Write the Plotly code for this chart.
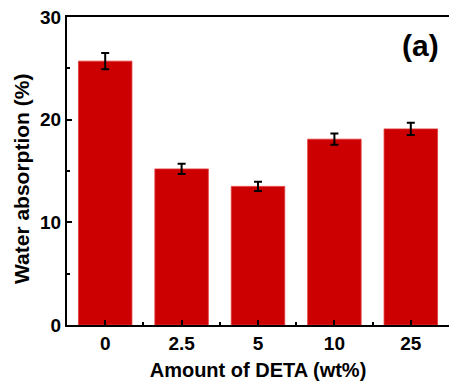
import plotly.graph_objects as go

# DETA loading (wt%) and measured water absorption (%)
categories = ["0", "2.5", "5", "10", "25"]
absorption = [25.7, 15.2, 13.5, 18.1, 19.1]
errors = [0.8, 0.5, 0.45, 0.55, 0.6]

positions = list(range(len(categories)))
font_family = "Liberation Sans, Arial, sans-serif"

W, H = 449, 389
M_L, M_R, M_T, M_B = 67, 0, 17, 64
plot_w = W - M_L - M_R
plot_h = H - M_T - M_B


def px_to_paper(px, py):
    """Convert page pixel coordinates to paper coordinates."""
    return (px - M_L) / plot_w, 1 - (py - M_T) / plot_h


fig = go.Figure(
    go.Bar(
        x=positions,
        y=absorption,
        width=0.7,
        marker=dict(color="#CC0000", line=dict(color="#E23A3A", width=0.8)),
        error_y=dict(type="data", array=errors, visible=True,
                     color="black", thickness=2, width=4),
    )
)

label_x, label_y = px_to_paper(441, 45)
ytitle_x, ytitle_y = px_to_paper(21, 179)

fig.update_layout(
    width=W,
    height=H,
    margin=dict(l=M_L, r=M_R, t=M_T, b=M_B),
    paper_bgcolor="white",
    plot_bgcolor="white",
    showlegend=False,
    font=dict(family=font_family, color="black"),
    annotations=[
        dict(text="<b>(a)</b>", x=label_x, y=label_y, xref="paper", yref="paper",
             xanchor="right", yanchor="middle", showarrow=False,
             font=dict(size=30, family=font_family, color="black")),
        dict(text="<b>Water absorption (%)</b>", x=ytitle_x, y=ytitle_y,
             xref="paper", yref="paper", xanchor="center", yanchor="middle",
             textangle=-90, showarrow=False,
             font=dict(size=21, family=font_family, color="black")),
    ],
)

fig.update_xaxes(
    range=[-0.5, 4.5],
    tickvals=positions,
    ticktext=[f"<b>{c}</b>" for c in categories],
    tickfont=dict(size=19),
    ticks="inside", ticklen=5, tickwidth=2, tickcolor="black",
    minor=dict(tick0=0.5, dtick=1, ticks="inside", ticklen=3,
               tickwidth=1.5, tickcolor="black"),
    showline=True, linecolor="black", linewidth=2, mirror=True,
    showgrid=False, zeroline=False,
    title=dict(text="<b>Amount of DETA (wt%)</b>", font=dict(size=20), standoff=10),
)

fig.update_yaxes(
    range=[0, 30],
    tickvals=[0, 10, 20, 30],
    ticktext=["<b>0</b>", "<b>10</b>", "<b>20</b>", "<b>30</b>"],
    tickfont=dict(size=19),
    ticks="inside", ticklen=5, tickwidth=2, tickcolor="black",
    minor=dict(tick0=0, dtick=5, ticks="inside", ticklen=3,
               tickwidth=1.5, tickcolor="black"),
    showline=True, linecolor="black", linewidth=2,
    showgrid=False, zeroline=False,
)

fig.write_html("out.html")
